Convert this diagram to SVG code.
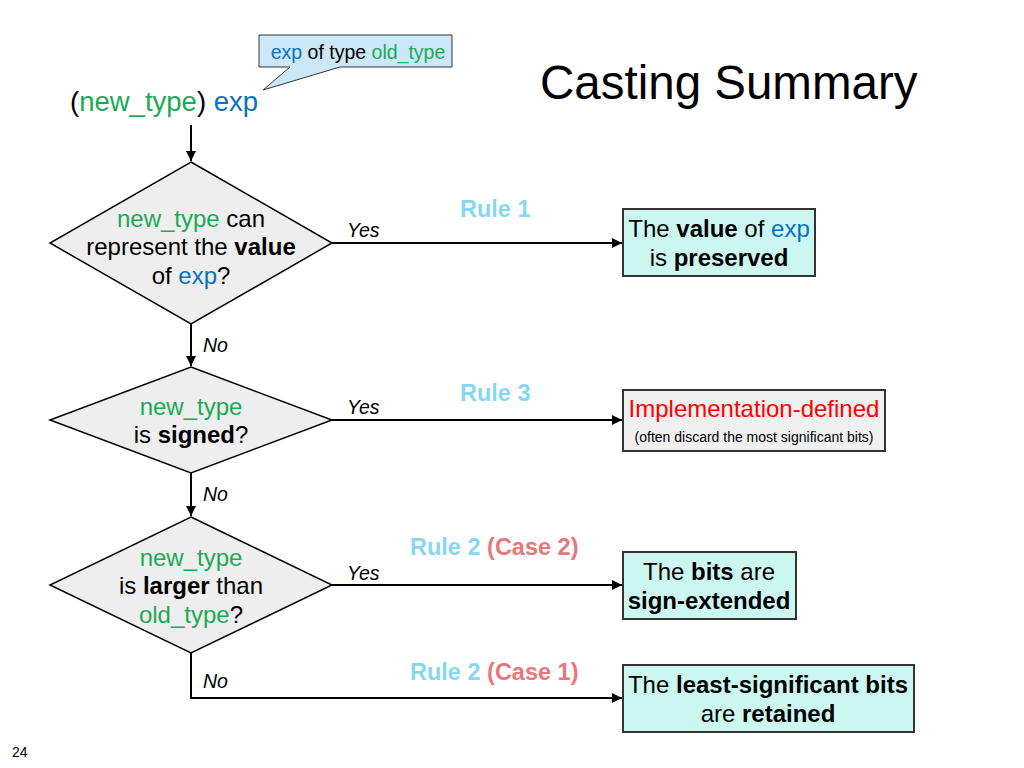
<svg xmlns="http://www.w3.org/2000/svg" width="1024" height="768" viewBox="0 0 1024 768">
<style>
text{font-family:"Liberation Sans",Arial,sans-serif;fill:#000}
.g{fill:#1aaa55}.b{fill:#0a70c0}.r{fill:#ff0000}
.bd{font-weight:bold}
.dia{fill:#eeeeee;stroke:#000;stroke-width:1.5}
.box{fill:#ccf7f0;stroke:#333;stroke-width:2}
.box2{fill:#f0f0f0;stroke:#333;stroke-width:2}
.ln{stroke:#000;stroke-width:2;fill:none}
.yn{font-size:19.5px;font-style:italic}
.rule{font-size:23.5px;font-weight:bold;fill:#88d6f2}
.case{fill:#e8767a}
.dt{font-size:24px;text-anchor:middle}
</style>
<defs>
<marker id="ah" viewBox="0 0 10 10" refX="10" refY="5" markerWidth="5" markerHeight="5" orient="auto" markerUnits="strokeWidth">
<path d="M0,0 L10,5 L0,10 z" fill="#000"/>
</marker>
</defs>
<rect width="1024" height="768" fill="#fff"/>
<g id="title"><text x="540" y="99" font-size="47.5">Casting Summary</text></g>
<g id="callout">
<path d="M259,35 H452 V67 H340 L263,90 L290,67 H259 Z" fill="#cce8f8" stroke="#333" stroke-width="1"/>
<text x="358" y="59" font-size="19.5" text-anchor="middle"><tspan class="b">exp</tspan> of type <tspan class="g">old_type</tspan></text>
</g>
<g id="start"><text x="70" y="111" font-size="27.5">(<tspan class="g">new_type</tspan>) <tspan class="b">exp</tspan></text></g>
<g id="connectors">
<line class="ln" x1="191" y1="125" x2="191" y2="161" marker-end="url(#ah)"/>
<line class="ln" x1="332" y1="243" x2="622" y2="243" marker-end="url(#ah)"/>
<line class="ln" x1="191" y1="324" x2="191" y2="366" marker-end="url(#ah)"/>
<line class="ln" x1="332" y1="420" x2="622" y2="420" marker-end="url(#ah)"/>
<line class="ln" x1="191" y1="473" x2="191" y2="516" marker-end="url(#ah)"/>
<line class="ln" x1="332" y1="585" x2="622" y2="585" marker-end="url(#ah)"/>
<path class="ln" d="M191,653 V698 H622" marker-end="url(#ah)"/>
<text class="yn" x="347" y="237">Yes</text>
<text class="yn" x="203" y="352">No</text>
<text class="yn" x="347" y="414">Yes</text>
<text class="yn" x="203" y="501">No</text>
<text class="yn" x="347" y="580">Yes</text>
<text class="yn" x="203" y="688">No</text>
<text class="rule" x="460" y="217">Rule 1</text>
<text class="rule" x="460" y="401">Rule 3</text>
<text class="rule" x="410" y="555">Rule 2 <tspan class="case">(Case 2)</tspan></text>
<text class="rule" x="410" y="680">Rule 2 <tspan class="case">(Case 1)</tspan></text>
</g>
<g id="d1">
<polygon class="dia" points="191,162 332,243 191,324 50,243"/>
<text class="dt" x="191" y="227"><tspan class="g">new_type</tspan> can</text>
<text class="dt" x="191" y="255">represent the <tspan class="bd">value</tspan></text>
<text class="dt" x="191" y="284">of <tspan class="b">exp</tspan>?</text>
</g>
<g id="d2">
<polygon class="dia" points="191,367 332,420 191,473 50,420"/>
<text class="dt" x="191" y="415"><tspan class="g">new_type</tspan></text>
<text class="dt" x="191" y="443">is <tspan class="bd">signed</tspan>?</text>
</g>
<g id="d3">
<polygon class="dia" points="191,517 332,585 191,653 50,585"/>
<text class="dt" x="191" y="566"><tspan class="g">new_type</tspan></text>
<text class="dt" x="191" y="594">is <tspan class="bd">larger</tspan> than</text>
<text class="dt" x="191" y="623"><tspan class="g">old_type</tspan>?</text>
</g>
<g id="b1">
<rect class="box" x="623" y="209" width="192" height="67"/>
<text class="dt" x="719" y="237">The <tspan class="bd">value</tspan> of <tspan class="b">exp</tspan></text>
<text class="dt" x="719" y="266">is <tspan class="bd">preserved</tspan></text>
</g>
<g id="b2">
<rect class="box2" x="623" y="390" width="262" height="61"/>
<text class="dt r" x="754" y="417">Implementation-defined</text>
<text x="754" y="442" font-size="14" text-anchor="middle">(often discard the most significant bits)</text>
</g>
<g id="b3">
<rect class="box" x="623" y="552" width="173" height="67"/>
<text class="dt" x="709" y="580">The <tspan class="bd">bits</tspan> are</text>
<text class="dt bd" x="709" y="609">sign-extended</text>
</g>
<g id="b4">
<rect class="box" x="623" y="665" width="291" height="67"/>
<text class="dt" x="768" y="693">The <tspan class="bd">least-significant bits</tspan></text>
<text class="dt" x="768" y="722">are <tspan class="bd">retained</tspan></text>
</g>
<text x="12" y="757" font-size="14" fill="#333">24</text>
</svg>
